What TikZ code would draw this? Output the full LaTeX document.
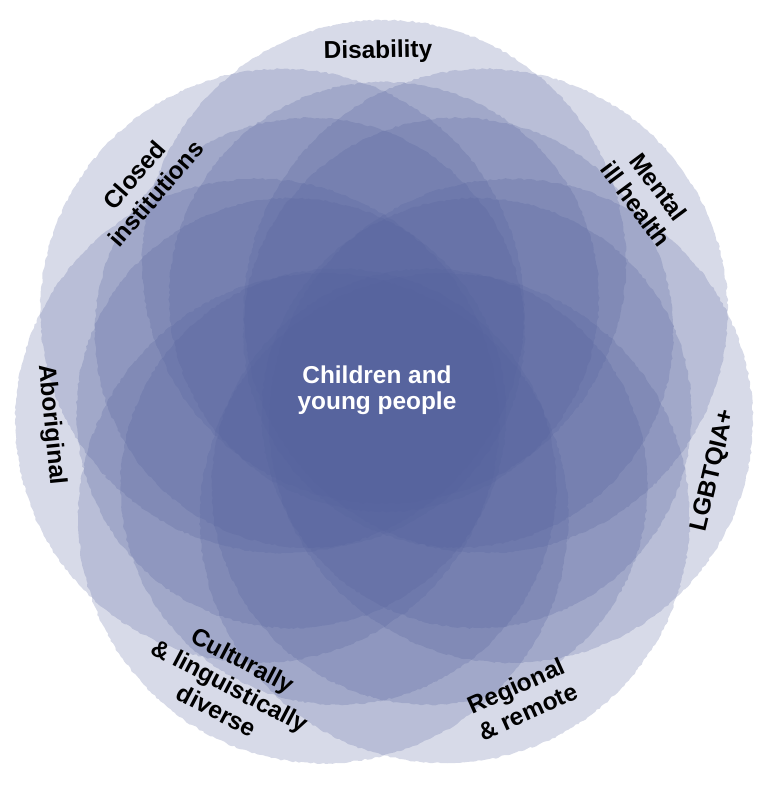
\documentclass[tikz,border=0pt]{standalone}
\usepackage{fontspec}
\setmainfont{Liberation Sans}
\usetikzlibrary{calc,decorations.pathmorphing}
\definecolor{petalblue}{RGB}{83,96,156}
\begin{document}
\begin{tikzpicture}[x=1bp,y=1bp,
  petal/.style={fill=petalblue, fill opacity=0.233},
  rough/.style={decorate, decoration={random steps, segment length=3bp, amplitude=0.9bp}},
  lbl/.style={font=\fontsize{24.5}{28.5}\selectfont\bfseries, text=black, inner sep=0pt, align=center},
  centertext/.style={text=white, font=\fontsize{24.5}{26.5}\selectfont\bfseries, align=center}]
\useasboundingbox (0,0) rectangle (776,787);
\coordinate (C) at (384,395);
% outer petals (outline of the flower)
\foreach \a/\d/\r in {90/130/242, 38.57/130/242, -12.86/130/242, -64.29/140/245, -115.71/140/245, -167.14/130/242, 141.43/130/242}
  \fill[petal, rough] (C) ++(\a:\d) circle[radius=\r];
% inner, denser part of each petal
\foreach \a/\d/\r in {90/95/215, 38.57/95/215, -12.86/95/215, -64.29/105/218, -115.71/105/218, -167.14/95/215, 141.43/95/215}
  \fill[petal, rough] (C) ++(\a:\d) circle[radius=\r];
% labels on the top half: tops outward
\node[lbl, anchor=base, rotate=1] (dis) at ($(C)+(91:334)$) {Disability};
\node[lbl, rotate=49]    (clo) at ($(C)+(139:316.7)$) {Closed\\institutions};
\node[lbl, rotate=-53.3] (men) at ($(C)+(36.7:328.7)$) {Mental\\ill health};
% labels on the bottom half: tops inward
\node[lbl, anchor=base, rotate=76.6] (lgb) at ($(C)+(-13.4:345)$) {LGBTQIA+};
\node[lbl, rotate=24.2]  (reg) at ($(C)+(-65.8:336.3)$) {Regional\\\& remote};
\node[lbl, rotate=-27.7] (cul) at ($(C)+(-117.7:331.5)$) {Culturally\\\& linguistically\\diverse};
\node[lbl, anchor=base, rotate=-84.4] (abo) at ($(C)+(185.6:341)$) {Aboriginal};
\node[centertext] (cyp) at (377,397) {Children and\\young people};
\end{tikzpicture}
\end{document}
